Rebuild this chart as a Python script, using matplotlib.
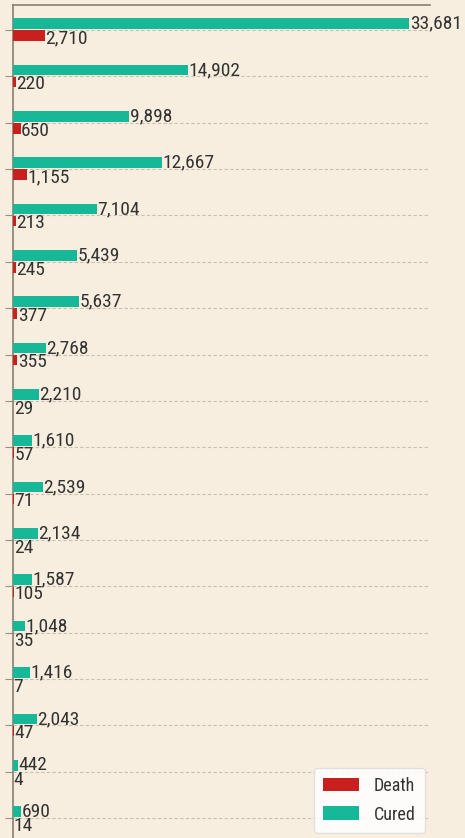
import matplotlib
matplotlib.use("Agg")
import matplotlib.pyplot as plt
import numpy as np

cured = [33681, 14902, 9898, 12667, 7104, 5439, 5637, 2768, 2210, 1610,
         2539, 2134, 1587, 1048, 1416, 2043, 442, 690]
death = [2710, 220, 650, 1155, 213, 245, 377, 355, 29, 57,
         71, 24, 105, 35, 7, 47, 4, 14]
series_names = ["Death", "Cured"]

FAM = ["Roboto Condensed", "Liberation Sans", "DejaVu Sans"]
BG = "#F8EEDF"
TEAL = "#17B897"
RED = "#C8201F"
TXT = "#333333"

fig = plt.figure(figsize=(4.65, 8.38), dpi=100, facecolor=BG)
ax = fig.add_axes([13/465, 0, 417/465, 833/838])
ax.set_facecolor(BG)

y = np.arange(len(cured))
h = 0.23
bc = ax.barh(y - 0.14, cured, height=h, color=TEAL, zorder=3)
bd = ax.barh(y + 0.12, death, height=h, color=RED, zorder=3)

for yi, v in zip(y, cured):
    ax.text(v + 40, yi - 0.14, f"{v:,}", va="center", ha="left",
            fontsize=14, family=FAM, color=TXT, clip_on=False, zorder=4)
for yi, v in zip(y, death):
    ax.text(v + 40, yi + 0.17, f"{v:,}", va="center", ha="left",
            fontsize=14, family=FAM, color=TXT, clip_on=False, zorder=4)

ax.set_xlim(0, 35440)
ax.set_ylim(17.43, -0.54)
ax.set_yticks(y)
ax.set_yticklabels([])
ax.set_xticks([])
ax.tick_params(axis="y", direction="out", length=6, color="#9a9080", width=0.8)
for yi in y:
    ax.axhline(yi, color="#c9c0b2", lw=0.8, ls=(0, (3, 2)), zorder=1)

for s in ["right", "bottom"]:
    ax.spines[s].set_visible(False)
for s in ["left", "top"]:
    ax.spines[s].set_color("#8a8072")
    ax.spines[s].set_linewidth(1.2)

leg = ax.legend([bd, bc], series_names, loc="lower right",
                prop={"family": FAM, "size": 13}, frameon=True,
                handlelength=2.0, handleheight=0.8, borderaxespad=0.3,
                labelspacing=0.6, borderpad=0.5, handletextpad=0.8)
leg.get_frame().set_facecolor("white")
leg.get_frame().set_alpha(0.85)
leg.get_frame().set_edgecolor("#dddddd")
for t in leg.get_texts():
    t.set_color(TXT)

fig.savefig("out.png", dpi=100, facecolor=BG)
